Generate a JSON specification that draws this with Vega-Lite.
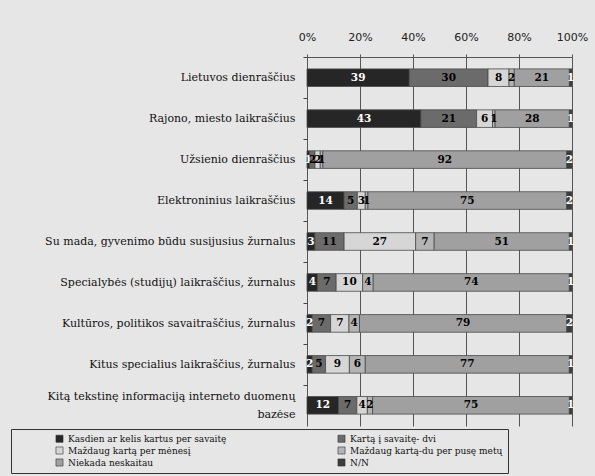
{
  "$schema": "https://vega.github.io/schema/vega-lite/v6.json",
  "width": 265,
  "height": 369,
  "autosize": {"type": "none"},
  "padding": {"left": 307, "top": 57, "right": 23, "bottom": 50},
  "background": "#e6e6e6",
  "config": {"view": {"stroke": null}},
  "data": {
    "values": [
      {"cat": "Lietuvos dienraščius", "s": "Kasdien ar kelis kartus per savaitę", "v": 39},
      {"cat": "Lietuvos dienraščius", "s": "Kartą į savaitę- dvi", "v": 30},
      {"cat": "Lietuvos dienraščius", "s": "Maždaug kartą per mėnesį", "v": 8},
      {"cat": "Lietuvos dienraščius", "s": "Maždaug kartą-du per pusę metų", "v": 2},
      {"cat": "Lietuvos dienraščius", "s": "Niekada neskaitau", "v": 21},
      {"cat": "Lietuvos dienraščius", "s": "N/N", "v": 1},
      {"cat": "Rajono, miesto laikraščius", "s": "Kasdien ar kelis kartus per savaitę", "v": 43},
      {"cat": "Rajono, miesto laikraščius", "s": "Kartą į savaitę- dvi", "v": 21},
      {"cat": "Rajono, miesto laikraščius", "s": "Maždaug kartą per mėnesį", "v": 6},
      {"cat": "Rajono, miesto laikraščius", "s": "Maždaug kartą-du per pusę metų", "v": 1},
      {"cat": "Rajono, miesto laikraščius", "s": "Niekada neskaitau", "v": 28},
      {"cat": "Rajono, miesto laikraščius", "s": "N/N", "v": 1},
      {"cat": "Užsienio dienraščius", "s": "Kasdien ar kelis kartus per savaitę", "v": 1},
      {"cat": "Užsienio dienraščius", "s": "Kartą į savaitę- dvi", "v": 2},
      {"cat": "Užsienio dienraščius", "s": "Maždaug kartą per mėnesį", "v": 2},
      {"cat": "Užsienio dienraščius", "s": "Maždaug kartą-du per pusę metų", "v": 1},
      {"cat": "Užsienio dienraščius", "s": "Niekada neskaitau", "v": 92},
      {"cat": "Užsienio dienraščius", "s": "N/N", "v": 2},
      {"cat": "Elektroninius laikraščius", "s": "Kasdien ar kelis kartus per savaitę", "v": 14},
      {"cat": "Elektroninius laikraščius", "s": "Kartą į savaitę- dvi", "v": 5},
      {"cat": "Elektroninius laikraščius", "s": "Maždaug kartą per mėnesį", "v": 3},
      {"cat": "Elektroninius laikraščius", "s": "Maždaug kartą-du per pusę metų", "v": 1},
      {"cat": "Elektroninius laikraščius", "s": "Niekada neskaitau", "v": 75},
      {"cat": "Elektroninius laikraščius", "s": "N/N", "v": 2},
      {"cat": "Su mada, gyvenimo būdu susijusius žurnalus", "s": "Kasdien ar kelis kartus per savaitę", "v": 3},
      {"cat": "Su mada, gyvenimo būdu susijusius žurnalus", "s": "Kartą į savaitę- dvi", "v": 11},
      {"cat": "Su mada, gyvenimo būdu susijusius žurnalus", "s": "Maždaug kartą per mėnesį", "v": 27},
      {"cat": "Su mada, gyvenimo būdu susijusius žurnalus", "s": "Maždaug kartą-du per pusę metų", "v": 7},
      {"cat": "Su mada, gyvenimo būdu susijusius žurnalus", "s": "Niekada neskaitau", "v": 51},
      {"cat": "Su mada, gyvenimo būdu susijusius žurnalus", "s": "N/N", "v": 1},
      {"cat": "Specialybės (studijų) laikraščius, žurnalus", "s": "Kasdien ar kelis kartus per savaitę", "v": 4},
      {"cat": "Specialybės (studijų) laikraščius, žurnalus", "s": "Kartą į savaitę- dvi", "v": 7},
      {"cat": "Specialybės (studijų) laikraščius, žurnalus", "s": "Maždaug kartą per mėnesį", "v": 10},
      {"cat": "Specialybės (studijų) laikraščius, žurnalus", "s": "Maždaug kartą-du per pusę metų", "v": 4},
      {"cat": "Specialybės (studijų) laikraščius, žurnalus", "s": "Niekada neskaitau", "v": 74},
      {"cat": "Specialybės (studijų) laikraščius, žurnalus", "s": "N/N", "v": 1},
      {"cat": "Kultūros, politikos savaitraščius, žurnalus", "s": "Kasdien ar kelis kartus per savaitę", "v": 2},
      {"cat": "Kultūros, politikos savaitraščius, žurnalus", "s": "Kartą į savaitę- dvi", "v": 7},
      {"cat": "Kultūros, politikos savaitraščius, žurnalus", "s": "Maždaug kartą per mėnesį", "v": 7},
      {"cat": "Kultūros, politikos savaitraščius, žurnalus", "s": "Maždaug kartą-du per pusę metų", "v": 4},
      {"cat": "Kultūros, politikos savaitraščius, žurnalus", "s": "Niekada neskaitau", "v": 79},
      {"cat": "Kultūros, politikos savaitraščius, žurnalus", "s": "N/N", "v": 2},
      {"cat": "Kitus specialius laikraščius, žurnalus", "s": "Kasdien ar kelis kartus per savaitę", "v": 2},
      {"cat": "Kitus specialius laikraščius, žurnalus", "s": "Kartą į savaitę- dvi", "v": 5},
      {"cat": "Kitus specialius laikraščius, žurnalus", "s": "Maždaug kartą per mėnesį", "v": 9},
      {"cat": "Kitus specialius laikraščius, žurnalus", "s": "Maždaug kartą-du per pusę metų", "v": 6},
      {"cat": "Kitus specialius laikraščius, žurnalus", "s": "Niekada neskaitau", "v": 77},
      {"cat": "Kitus specialius laikraščius, žurnalus", "s": "N/N", "v": 1},
      {"cat": "Kitą tekstinę informaciją interneto duomenų bazėse", "s": "Kasdien ar kelis kartus per savaitę", "v": 12},
      {"cat": "Kitą tekstinę informaciją interneto duomenų bazėse", "s": "Kartą į savaitę- dvi", "v": 7},
      {"cat": "Kitą tekstinę informaciją interneto duomenų bazėse", "s": "Maždaug kartą per mėnesį", "v": 4},
      {"cat": "Kitą tekstinę informaciją interneto duomenų bazėse", "s": "Maždaug kartą-du per pusę metų", "v": 2},
      {"cat": "Kitą tekstinę informaciją interneto duomenų bazėse", "s": "Niekada neskaitau", "v": 75},
      {"cat": "Kitą tekstinę informaciją interneto duomenų bazėse", "s": "N/N", "v": 1}
    ]
  },
  "transform": [
    {"stack": "v", "groupby": ["cat"], "offset": "normalize", "as": ["x0", "x1"]}
  ],
  "encoding": {
    "y": {
      "field": "cat",
      "type": "nominal",
      "sort": null,
      "title": null,
      "scale": {"paddingInner": 0.57, "paddingOuter": 0.29},
      "axis": {
        "domain": false,
        "ticks": true,
        "tickSize": 4,
        "tickColor": "#444",
        "bandPosition": 0,
        "tickOffset": -12,
        "labelOffset": {"condition": {"test": "datum.label == 'Kitą tekstinę informaciją interneto duomenų bazėse'", "value": 3}, "value": 12},
        "labelPadding": 8,
        "labelFont": "DejaVu Serif",
        "labelFontSize": 11,
        "labelColor": "#111",
        "labelLimit": 320,
        "labelLineHeight": 18,
        "labelExpr": "datum.label == 'Kitą tekstinę informaciją interneto duomenų bazėse' ? ['Kitą tekstinę informaciją interneto duomenų', 'bazėse'] : datum.label"
      }
    }
  },
  "layer": [
    {
      "mark": {"type": "bar", "stroke": "#4a4a4a", "strokeWidth": 0.8},
      "encoding": {
        "x": {
          "field": "x0",
          "type": "quantitative",
          "title": null,
          "scale": {"domain": [0, 1], "nice": false},
          "axis": {
            "orient": "top",
            "values": [0, 0.2, 0.4, 0.6, 0.8, 1],
            "format": ".0%",
            "domain": true,
            "domainColor": "#555",
            "tickColor": "#555",
            "tickSize": 3,
            "grid": true,
            "gridColor": "#555",
            "gridOpacity": 1,
            "gridWidth": 1,
            "labelPadding": 12,
            "labelFont": "DejaVu Sans",
            "labelFontSize": 11,
            "labelColor": "#222",
            "labelFlush": false
          }
        },
        "x2": {"field": "x1"},
        "color": {
          "field": "s",
          "type": "nominal",
          "scale": {
            "domain": ["Kasdien ar kelis kartus per savaitę", "Kartą į savaitę- dvi", "Maždaug kartą per mėnesį", "Maždaug kartą-du per pusę metų", "Niekada neskaitau", "N/N"],
            "range": ["#262626", "#6b6b6b", "#d6d6d6", "#b4b4b4", "#a0a0a0", "#3c3c3c"]
          },
          "legend": {
            "orient": "none",
            "legendX": -296,
            "legendY": 372,
            "title": null,
            "columns": 2,
            "direction": "horizontal",
            "gridAlign": "all",
            "symbolType": "square",
            "symbolSize": 50,
            "symbolOffset": 39,
            "symbolStrokeColor": "#333",
            "symbolStrokeWidth": 0.6,
            "labelFont": "DejaVu Serif",
            "labelFontSize": 9,
            "labelColor": "#111",
            "labelOffset": 4,
            "labelLimit": 400,
            "columnPadding": 71,
            "rowPadding": 1,
            "padding": 5,
            "strokeColor": "#333"
          }
        }
      }
    },
    {
      "mark": {"type": "text", "font": "DejaVu Serif", "fontWeight": "bold", "fontSize": 10.5},
      "encoding": {
        "x": {"field": "v", "type": "quantitative", "stack": "normalize", "bandPosition": 0.5},
        "detail": {"field": "s"},
        "order": {"field": "x0", "type": "quantitative"},
        "text": {"field": "v", "type": "quantitative"},
        "color": {
          "condition": {"test": "datum.s == 'Kasdien ar kelis kartus per savaitę' || datum.s == 'N/N'", "value": "white"},
          "value": "black"
        }
      }
    }
  ]
}
